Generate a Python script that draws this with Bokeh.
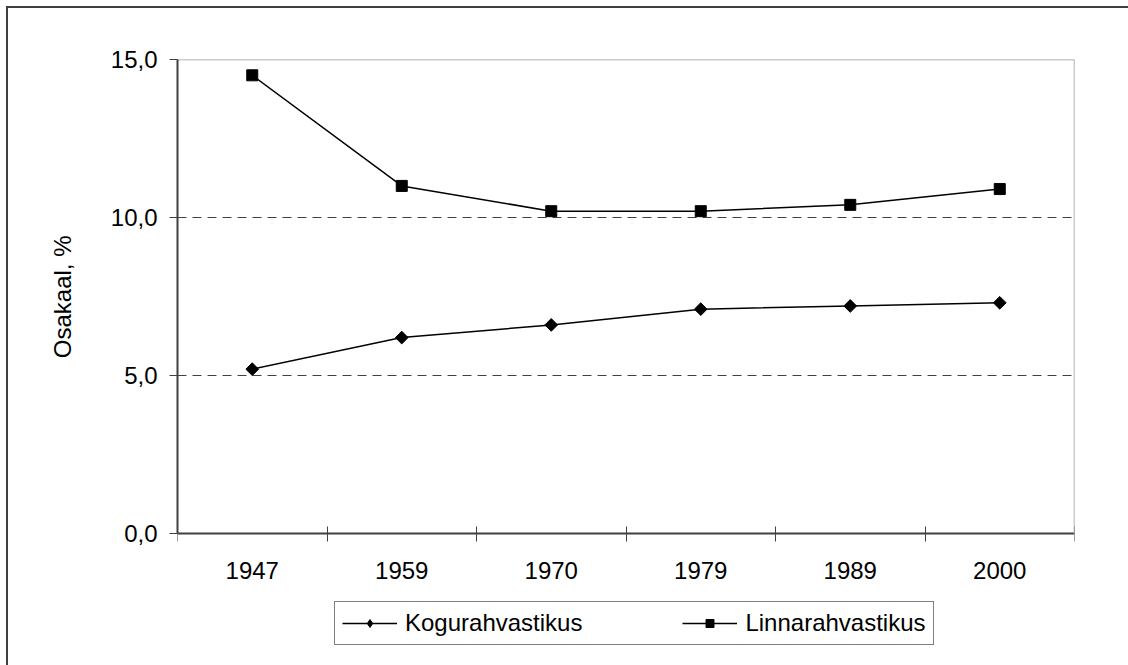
import math
from bokeh.plotting import figure
from bokeh.models import FixedTicker, Legend, LegendItem, Range1d, LinearAxis, Title
from bokeh.embed import file_html
from bokeh.resources import INLINE

# ---- data ----
years = ["1947", "1959", "1970", "1979", "1989", "2000"]
kogurahvastikus = [5.2, 6.2, 6.6, 7.1, 7.2, 7.3]
linnarahvastikus = [14.5, 11.0, 10.2, 10.2, 10.4, 10.9]
y_ticks = [0, 5, 10, 15]
y_tick_labels = ["0,0", "5,0", "10,0", "15,0"]
y_title = "Osakaal, %"
series_names = ["Kogurahvastikus", "Linnarahvastikus"]

FONT = "Liberation Sans"
FS = "24px"

Y_MIN, Y_MAX = 0, 15
PLOT_H = 474      # pixel height of the 0..15 value area
FRAME_H = 606     # frame extended below to hold the legend
y_start = Y_MAX - (Y_MAX - Y_MIN) * FRAME_H / PLOT_H

# category centres on a numeric scale (one unit per category)
xs = [i + 0.5 for i in range(len(years))]
boundaries = list(range(len(years) + 1))

p = figure(
    frame_width=897, frame_height=FRAME_H,
    min_border_left=169, min_border_top=51,
    min_border_right=54, min_border_bottom=0,
    x_range=Range1d(0, len(years)), y_range=Range1d(y_start, Y_MAX),
    x_axis_location=None,
    output_backend="svg", toolbar_location=None,
)
p.styles = {"margin-left": "6px", "margin-top": "6px",
            "border-left": "2px solid #404040", "border-top": "2px solid #404040"}
p.background_fill_color = "white"
p.border_fill_color = "white"
p.outline_line_color = None

# grid
p.xgrid.visible = False
p.ygrid.ticker = FixedTicker(ticks=[5, 10])
p.ygrid.grid_line_color = "#404040"
p.ygrid.grid_line_dash = "9 6"
p.ygrid.grid_line_width = 1

# x axis (drawn at y = 0)
xa = LinearAxis(fixed_location=Y_MIN)
xa.ticker = FixedTicker(ticks=xs, minor_ticks=boundaries)
xa.major_label_overrides = {x: y for x, y in zip(xs, years)}
xa.major_tick_line_color = None
xa.major_tick_in = 0
xa.major_tick_out = 0
xa.minor_tick_in = 7
xa.minor_tick_out = 8
xa.minor_tick_line_color = "#404040"
xa.minor_tick_line_width = 1
xa.axis_line_color = "#404040"
xa.axis_line_width = 2
xa.major_label_standoff = 20
xa.major_label_text_font = FONT
xa.major_label_text_font_size = FS
xa.major_label_text_color = "black"
p.add_layout(xa, "below")

# y axis
ya = p.yaxis[0]
ya.bounds = (Y_MIN, Y_MAX)
ya.ticker = FixedTicker(ticks=y_ticks)
ya.major_label_overrides = {t: l for t, l in zip(y_ticks, y_tick_labels)}
ya.major_tick_in = 0
ya.major_tick_out = 8
ya.major_tick_line_color = "#404040"
ya.minor_tick_line_color = None
ya.axis_line_color = "#404040"
ya.axis_line_width = 2
ya.major_label_standoff = 12
ya.major_label_text_font = FONT
ya.major_label_text_font_size = FS
ya.major_label_text_color = "black"

# y-axis title, placed beside the 0..15 part of the axis
p.add_layout(Title(text=y_title, align="right", offset=176, standoff=64,
                   text_font=FONT, text_font_size=FS, text_font_style="normal",
                   text_color="black"), "left")

# plot-area border (top and right), grey lines without ticks
def border_axis(**kw):
    ax = LinearAxis(ticker=FixedTicker(ticks=[]), **kw)
    ax.major_tick_line_color = None
    ax.minor_tick_line_color = None
    ax.major_label_text_alpha = 0
    ax.axis_line_color = "#999999"
    ax.axis_line_width = 1.5
    return ax

p.add_layout(border_axis(fixed_location=Y_MAX), "above")
p.add_layout(border_axis(fixed_location=len(years), bounds=(Y_MIN, Y_MAX)), "right")

# series
lk = p.line(xs, kogurahvastikus, line_color="black", line_width=1.5)
sk = p.scatter(xs, kogurahvastikus, marker="square", angle=math.pi / 4, size=9,
               fill_color="black", line_color="black")
ll = p.line(xs, linnarahvastikus, line_color="black", line_width=1.5)
sl = p.scatter(xs, linnarahvastikus, marker="square", size=11,
               fill_color="black", line_color="black")

# legend-only marker styles (smaller, as in the reference legend)
sk_leg = p.scatter(xs, kogurahvastikus, marker="diamond", size=11,
                   fill_color="black", line_color="black", visible=False)
sl_leg = p.scatter(xs, linnarahvastikus, marker="square", size=9,
                   fill_color="black", line_color="black", visible=False)

legend = Legend(
    items=[LegendItem(label=series_names[0], renderers=[lk, sk_leg]),
           LegendItem(label=series_names[1], renderers=[ll, sl_leg])],
    orientation="horizontal",
    location=(157, 20),
    margin=0,
    padding=7,
    spacing=100,
    glyph_width=55,
    label_standoff=8,
    label_text_font=FONT,
    label_text_font_size=FS,
    label_text_color="black",
    border_line_color="black",
    border_line_width=1,
    background_fill_color="white",
    background_fill_alpha=1,
    inactive_fill_alpha=0,
)
p.add_layout(legend, "center")

open("out.html", "w").write(file_html(p, INLINE))
